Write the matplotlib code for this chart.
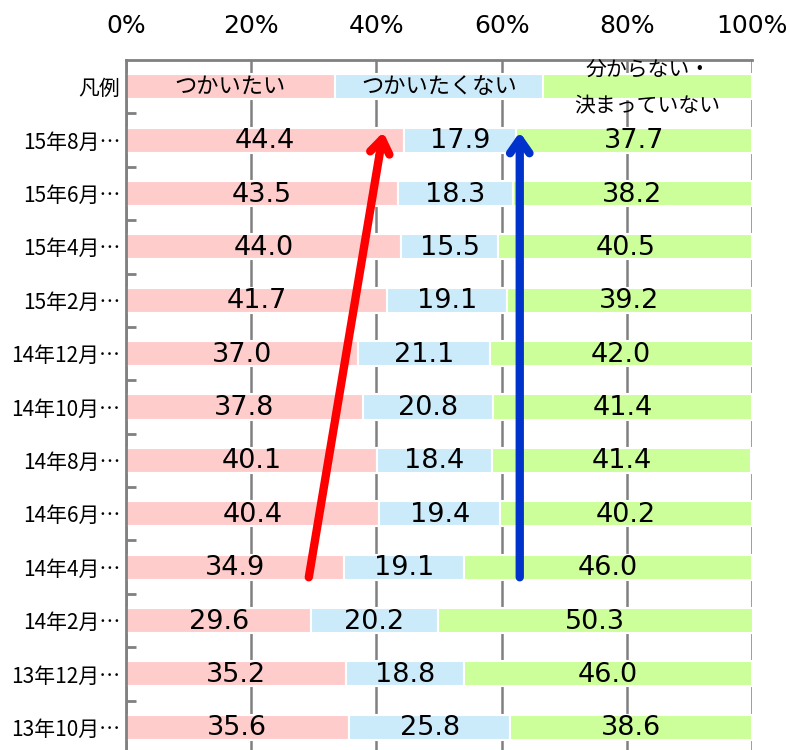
import numpy as np
import matplotlib
matplotlib.use('Agg')
from matplotlib import pyplot as plt

plt.rcParams['font.family'] = ['DejaVu Sans', 'Noto Sans CJK JP']

#DATA=======
categories = ['15年8月…', '15年6月…', '15年4月…', '15年2月…', '14年12月…', '14年10月…',
              '14年8月…', '14年6月…', '14年4月…', '14年2月…', '13年12月…', '13年10月…']
want = [44.4, 43.5, 44.0, 41.7, 37.0, 37.8, 40.1, 40.4, 34.9, 29.6, 35.2, 35.6]
not_want = [17.9, 18.3, 15.5, 19.1, 21.1, 20.8, 18.4, 19.4, 19.1, 20.2, 18.8, 25.8]
undecided = [37.7, 38.2, 40.5, 39.2, 42.0, 41.4, 41.4, 40.2, 46.0, 50.3, 46.0, 38.6]
legend_names = ['つかいたい', 'つかいたくない', '分からない・\n決まっていない']
legend_row = '凡例'
xticks = [0, 20, 40, 60, 80, 100]
#=============

colors = ['#FFCCCC', '#CCEBFA', '#CCFF99']

fig = plt.figure(figsize=(7.9, 7.5), dpi=100)
ax = fig.add_axes([126/790, -4/750, 626/790, 694/750])

labels = [legend_row] + categories
share = 100.0 / 3
series = [[share] + want, [share] + not_want, [share] + undecided]
y = np.arange(len(labels))

left = np.zeros(len(labels))
for vals, c in zip(series, colors):
    vals = np.array(vals)
    ax.barh(y, vals, left=left, height=0.47, color=c, edgecolor='white', linewidth=1.5, zorder=2)
    for i in range(1, len(labels)):
        ax.text(left[i] + vals[i] / 2, y[i] + 0.02, '%.1f' % vals[i], ha='center', va='center',
                fontsize=19.5, zorder=3)
    left += vals

# legend row text
jp = ['Noto Sans CJK JP', 'DejaVu Sans']
mid = 0
for name in legend_names:
    if '\n' in name:
        ax.text(mid + share / 2, 0.03, name, ha='center', va='center', fontsize=15,
                linespacing=1.85, family=jp, zorder=3)
    else:
        ax.text(mid + share / 2, 0, name, ha='center', va='center', fontsize=16,
                family=jp, zorder=3)
    mid += share

ax.set_xlim(0, 100)
ax.set_ylim(len(labels) - 0.5, -0.5)
ax.set_yticks(y)
ax.set_yticklabels(labels, fontsize=15)
for t in ax.get_yticklabels():
    t.set_family(jp)
ax.set_yticks(np.arange(len(labels)) + 0.5, minor=True)
ax.tick_params(axis='y', which='major', length=0, pad=4)
ax.tick_params(axis='y', which='minor', length=7, direction='in', color='#808080', width=2)

ax.xaxis.tick_top()
ax.set_xticks(xticks)
ax.set_xticklabels(['%d%%' % t for t in xticks], fontsize=18)
ax.tick_params(axis='x', length=0, pad=16)
ax.grid(axis='x', color='#808080', linewidth=1.8, zorder=0)
ax.set_axisbelow(True)

for s in ['right', 'bottom']:
    ax.spines[s].set_visible(False)
for s in ['left', 'top']:
    ax.spines[s].set_color('#808080')
    ax.spines[s].set_linewidth(2)

# trend arrows
arrow_style = '->,head_length=1.0,head_width=0.7'
ax.annotate('', xy=(41.1, 0.85), xytext=(29.2, 9.19),
            arrowprops=dict(arrowstyle=arrow_style, color='#FF0000',
                            lw=6, capstyle='round', joinstyle='round', shrinkA=0, shrinkB=0),
            zorder=4)
ax.annotate('', xy=(62.9, 0.85), xytext=(62.9, 9.19),
            arrowprops=dict(arrowstyle=arrow_style, color='#0033CC',
                            lw=6, capstyle='round', joinstyle='round', shrinkA=0, shrinkB=0),
            zorder=4)

plt.savefig('out.png', dpi=100)
